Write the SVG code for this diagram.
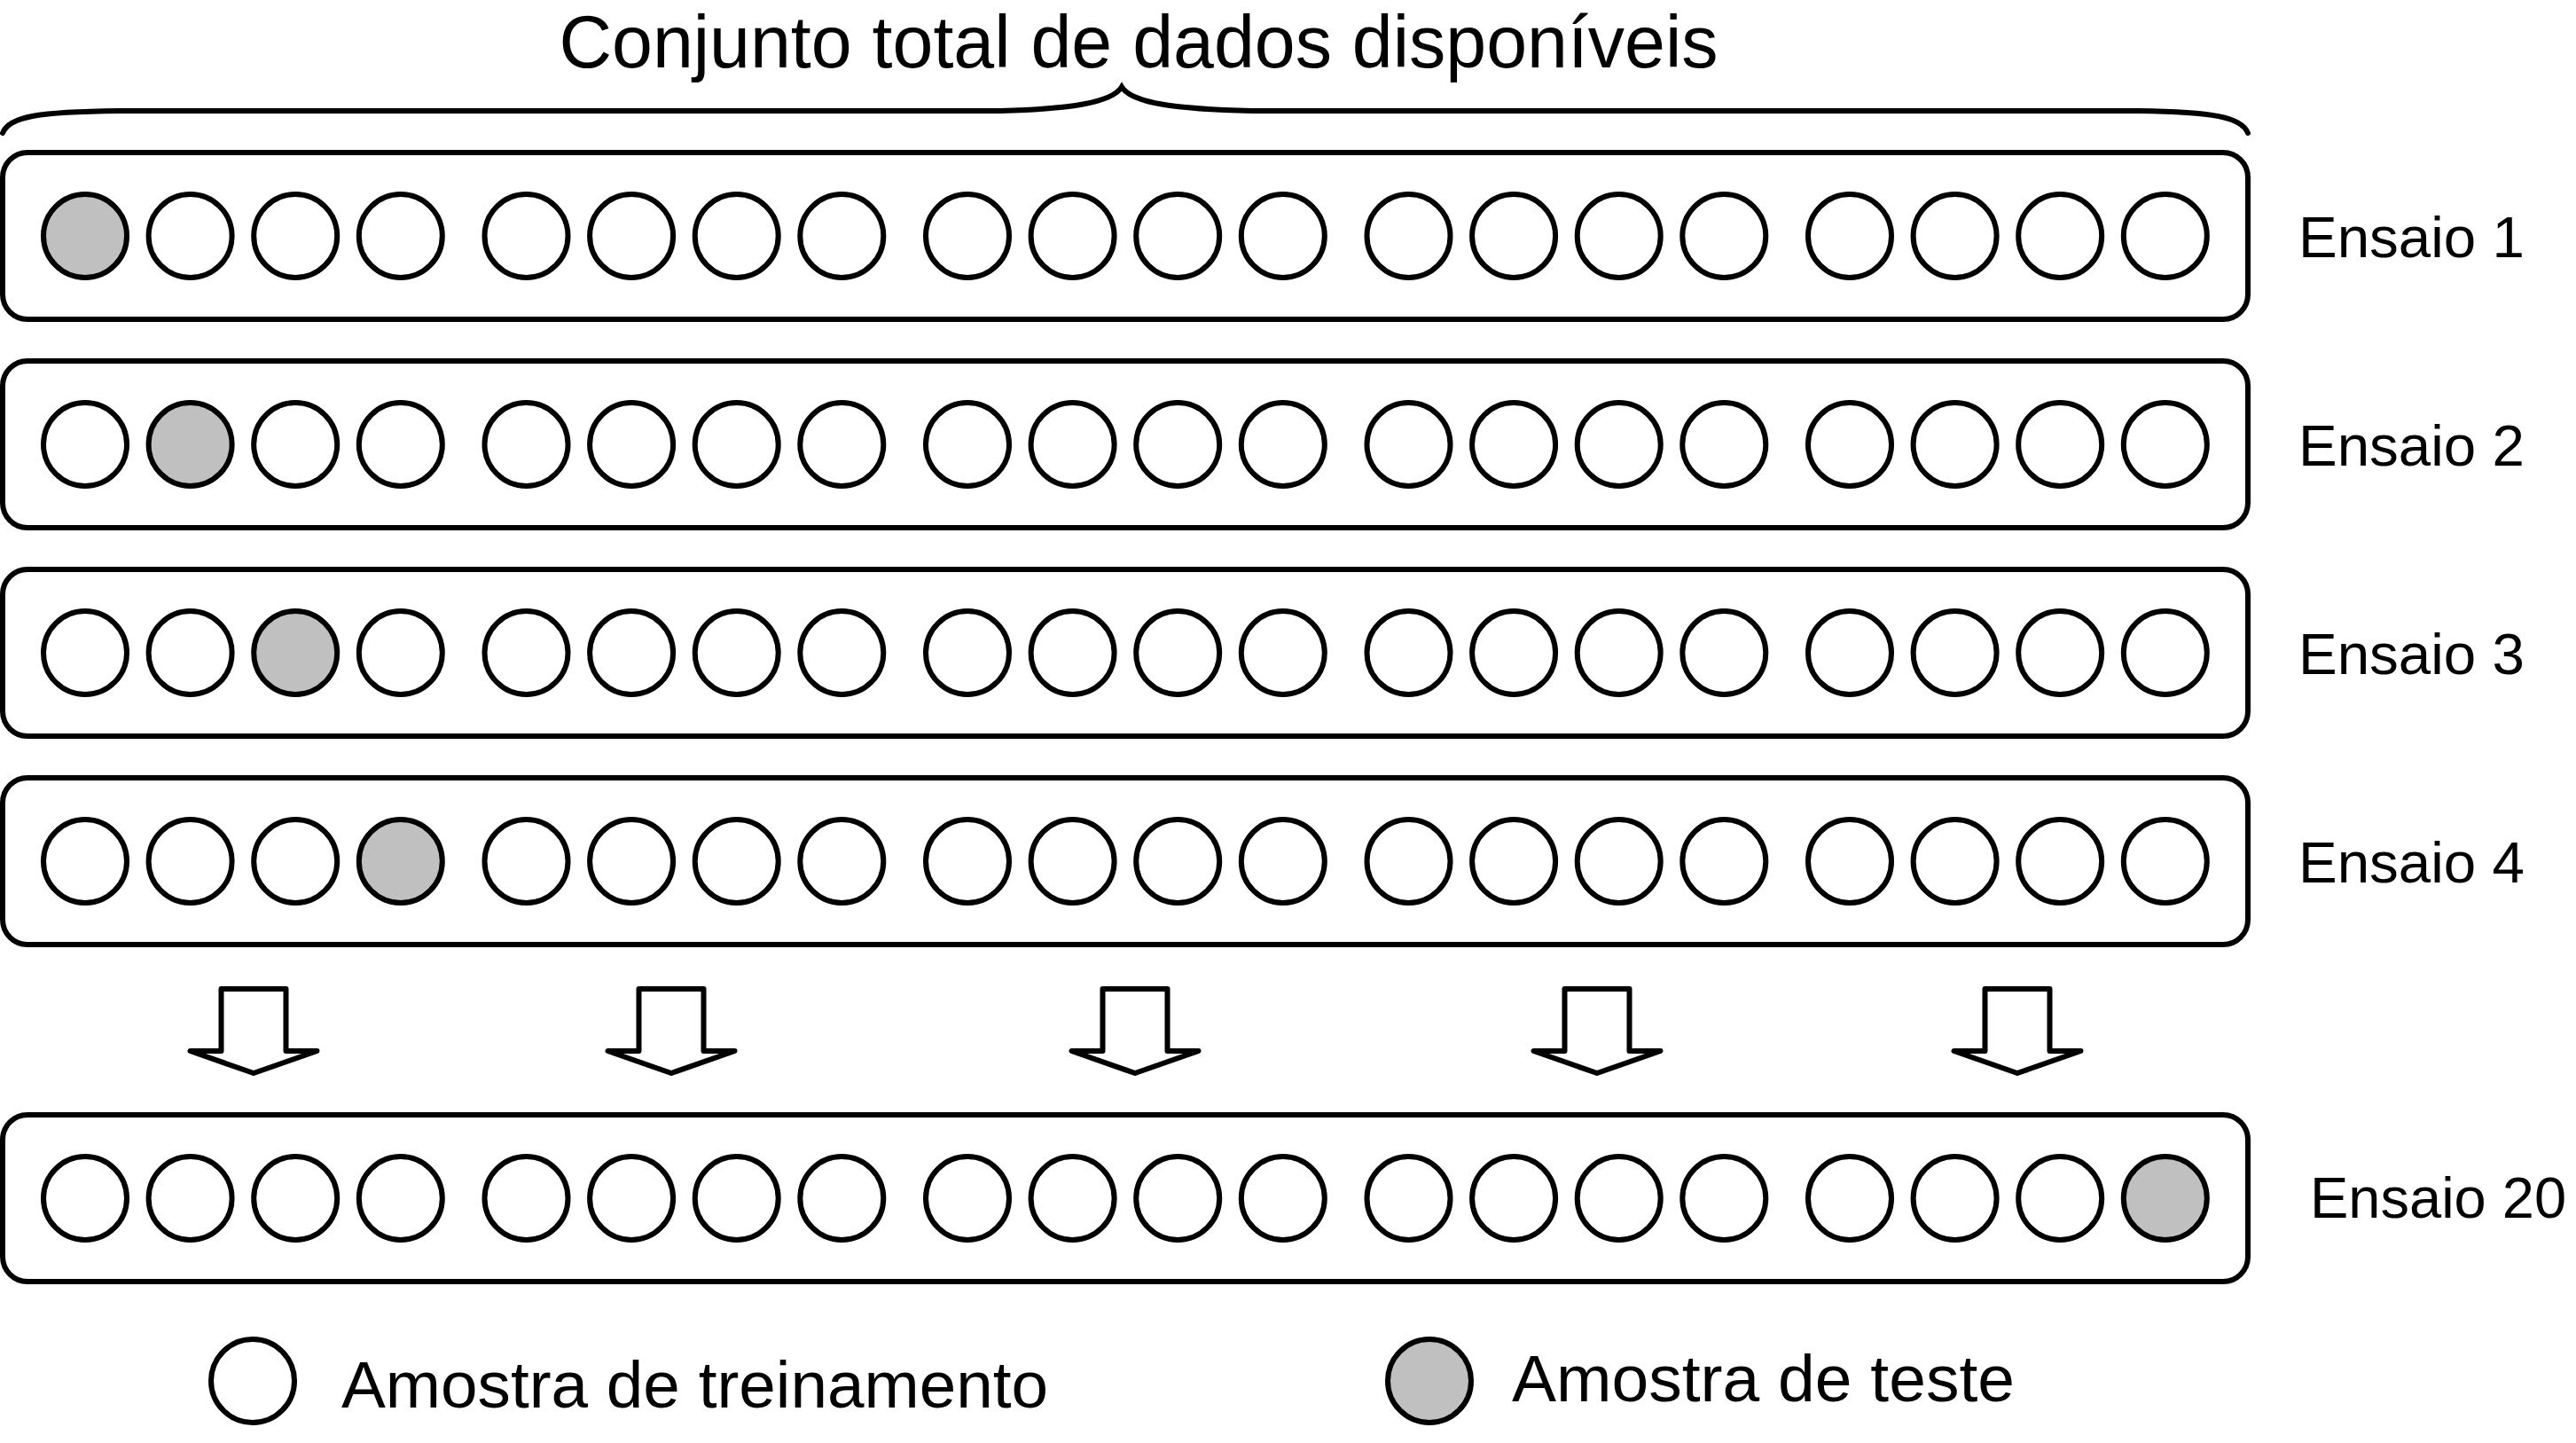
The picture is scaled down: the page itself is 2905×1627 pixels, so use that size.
<svg xmlns="http://www.w3.org/2000/svg" width="2905" height="1627" viewBox="0 0 2905 1627">
<style>
.bg{fill:#ffffff}
.box{fill:#ffffff;stroke:#000;stroke-width:6}
.tr{fill:#ffffff;stroke:#000;stroke-width:6}
.te{fill:#c0c0c0;stroke:#000;stroke-width:6}
.lbl{font-family:"Liberation Sans",Arial,sans-serif;fill:#000}
.arrow{fill:#ffffff;stroke:#000;stroke-width:6;stroke-linejoin:round}
.brace{fill:none;stroke:#000;stroke-width:6;stroke-linecap:round}
</style>
<rect class="bg" x="0" y="0" width="2905" height="1627"/>

<g id="title">
<text class="lbl" x="1284" y="76" font-size="82.5" text-anchor="middle">Conjunto total de dados disponíveis</text>
<path class="brace" d="M3,150 C10,131 45,126 134,125 L1128,125 C1205,123 1254,116 1265,98 C1276,116 1325,123 1412,125 L2412,125 C2495,126 2528,132 2535,150"/>
</g>

<g id="row1">
<rect class="box" x="3" y="172" width="2532" height="188" rx="28"/>
<g transform="translate(0,266)">
<circle class="te" cx="96" cy="0" r="47"/><circle class="tr" cx="214.6" cy="0" r="47"/><circle class="tr" cx="333.2" cy="0" r="47"/><circle class="tr" cx="451.8" cy="0" r="47"/>
<circle class="tr" cx="593.5" cy="0" r="47"/><circle class="tr" cx="712.1" cy="0" r="47"/><circle class="tr" cx="830.7" cy="0" r="47"/><circle class="tr" cx="949.3" cy="0" r="47"/>
<circle class="tr" cx="1091" cy="0" r="47"/><circle class="tr" cx="1209.6" cy="0" r="47"/><circle class="tr" cx="1328.2" cy="0" r="47"/><circle class="tr" cx="1446.8" cy="0" r="47"/>
<circle class="tr" cx="1588.5" cy="0" r="47"/><circle class="tr" cx="1707.1" cy="0" r="47"/><circle class="tr" cx="1825.7" cy="0" r="47"/><circle class="tr" cx="1944.3" cy="0" r="47"/>
<circle class="tr" cx="2086" cy="0" r="47"/><circle class="tr" cx="2204.6" cy="0" r="47"/><circle class="tr" cx="2323.2" cy="0" r="47"/><circle class="tr" cx="2441.8" cy="0" r="47"/>
</g>
<text class="lbl" x="2592" y="290" font-size="65.5">Ensaio 1</text>
</g>

<g id="row2">
<rect class="box" x="3" y="407" width="2532" height="188" rx="28"/>
<g transform="translate(0,501)">
<circle class="tr" cx="96" cy="0" r="47"/><circle class="te" cx="214.6" cy="0" r="47"/><circle class="tr" cx="333.2" cy="0" r="47"/><circle class="tr" cx="451.8" cy="0" r="47"/>
<circle class="tr" cx="593.5" cy="0" r="47"/><circle class="tr" cx="712.1" cy="0" r="47"/><circle class="tr" cx="830.7" cy="0" r="47"/><circle class="tr" cx="949.3" cy="0" r="47"/>
<circle class="tr" cx="1091" cy="0" r="47"/><circle class="tr" cx="1209.6" cy="0" r="47"/><circle class="tr" cx="1328.2" cy="0" r="47"/><circle class="tr" cx="1446.8" cy="0" r="47"/>
<circle class="tr" cx="1588.5" cy="0" r="47"/><circle class="tr" cx="1707.1" cy="0" r="47"/><circle class="tr" cx="1825.7" cy="0" r="47"/><circle class="tr" cx="1944.3" cy="0" r="47"/>
<circle class="tr" cx="2086" cy="0" r="47"/><circle class="tr" cx="2204.6" cy="0" r="47"/><circle class="tr" cx="2323.2" cy="0" r="47"/><circle class="tr" cx="2441.8" cy="0" r="47"/>
</g>
<text class="lbl" x="2592" y="525" font-size="65.5">Ensaio 2</text>
</g>

<g id="row3">
<rect class="box" x="3" y="642" width="2532" height="188" rx="28"/>
<g transform="translate(0,736)">
<circle class="tr" cx="96" cy="0" r="47"/><circle class="tr" cx="214.6" cy="0" r="47"/><circle class="te" cx="333.2" cy="0" r="47"/><circle class="tr" cx="451.8" cy="0" r="47"/>
<circle class="tr" cx="593.5" cy="0" r="47"/><circle class="tr" cx="712.1" cy="0" r="47"/><circle class="tr" cx="830.7" cy="0" r="47"/><circle class="tr" cx="949.3" cy="0" r="47"/>
<circle class="tr" cx="1091" cy="0" r="47"/><circle class="tr" cx="1209.6" cy="0" r="47"/><circle class="tr" cx="1328.2" cy="0" r="47"/><circle class="tr" cx="1446.8" cy="0" r="47"/>
<circle class="tr" cx="1588.5" cy="0" r="47"/><circle class="tr" cx="1707.1" cy="0" r="47"/><circle class="tr" cx="1825.7" cy="0" r="47"/><circle class="tr" cx="1944.3" cy="0" r="47"/>
<circle class="tr" cx="2086" cy="0" r="47"/><circle class="tr" cx="2204.6" cy="0" r="47"/><circle class="tr" cx="2323.2" cy="0" r="47"/><circle class="tr" cx="2441.8" cy="0" r="47"/>
</g>
<text class="lbl" x="2592" y="760" font-size="65.5">Ensaio 3</text>
</g>

<g id="row4">
<rect class="box" x="3" y="877" width="2532" height="188" rx="28"/>
<g transform="translate(0,971)">
<circle class="tr" cx="96" cy="0" r="47"/><circle class="tr" cx="214.6" cy="0" r="47"/><circle class="tr" cx="333.2" cy="0" r="47"/><circle class="te" cx="451.8" cy="0" r="47"/>
<circle class="tr" cx="593.5" cy="0" r="47"/><circle class="tr" cx="712.1" cy="0" r="47"/><circle class="tr" cx="830.7" cy="0" r="47"/><circle class="tr" cx="949.3" cy="0" r="47"/>
<circle class="tr" cx="1091" cy="0" r="47"/><circle class="tr" cx="1209.6" cy="0" r="47"/><circle class="tr" cx="1328.2" cy="0" r="47"/><circle class="tr" cx="1446.8" cy="0" r="47"/>
<circle class="tr" cx="1588.5" cy="0" r="47"/><circle class="tr" cx="1707.1" cy="0" r="47"/><circle class="tr" cx="1825.7" cy="0" r="47"/><circle class="tr" cx="1944.3" cy="0" r="47"/>
<circle class="tr" cx="2086" cy="0" r="47"/><circle class="tr" cx="2204.6" cy="0" r="47"/><circle class="tr" cx="2323.2" cy="0" r="47"/><circle class="tr" cx="2441.8" cy="0" r="47"/>
</g>
<text class="lbl" x="2592" y="995" font-size="65.5">Ensaio 4</text>
</g>

<g id="row20">
<rect class="box" x="3" y="1257" width="2532" height="188" rx="28"/>
<g transform="translate(0,1351)">
<circle class="tr" cx="96" cy="0" r="47"/><circle class="tr" cx="214.6" cy="0" r="47"/><circle class="tr" cx="333.2" cy="0" r="47"/><circle class="tr" cx="451.8" cy="0" r="47"/>
<circle class="tr" cx="593.5" cy="0" r="47"/><circle class="tr" cx="712.1" cy="0" r="47"/><circle class="tr" cx="830.7" cy="0" r="47"/><circle class="tr" cx="949.3" cy="0" r="47"/>
<circle class="tr" cx="1091" cy="0" r="47"/><circle class="tr" cx="1209.6" cy="0" r="47"/><circle class="tr" cx="1328.2" cy="0" r="47"/><circle class="tr" cx="1446.8" cy="0" r="47"/>
<circle class="tr" cx="1588.5" cy="0" r="47"/><circle class="tr" cx="1707.1" cy="0" r="47"/><circle class="tr" cx="1825.7" cy="0" r="47"/><circle class="tr" cx="1944.3" cy="0" r="47"/>
<circle class="tr" cx="2086" cy="0" r="47"/><circle class="tr" cx="2204.6" cy="0" r="47"/><circle class="tr" cx="2323.2" cy="0" r="47"/><circle class="te" cx="2441.8" cy="0" r="47"/>
</g>
<text class="lbl" x="2605" y="1373" font-size="65">Ensaio 20</text>
</g>

<g id="connectors">
<path class="arrow" transform="translate(286,0)" d="M-36.5,1115 L36.5,1115 L36.5,1185 L71.5,1185 L0,1210 L-71.5,1185 L-36.5,1185 Z"/>
<path class="arrow" transform="translate(757,0)" d="M-36.5,1115 L36.5,1115 L36.5,1185 L71.5,1185 L0,1210 L-71.5,1185 L-36.5,1185 Z"/>
<path class="arrow" transform="translate(1280,0)" d="M-36.5,1115 L36.5,1115 L36.5,1185 L71.5,1185 L0,1210 L-71.5,1185 L-36.5,1185 Z"/>
<path class="arrow" transform="translate(1801,0)" d="M-36.5,1115 L36.5,1115 L36.5,1185 L71.5,1185 L0,1210 L-71.5,1185 L-36.5,1185 Z"/>
<path class="arrow" transform="translate(2275,0)" d="M-36.5,1115 L36.5,1115 L36.5,1185 L71.5,1185 L0,1210 L-71.5,1185 L-36.5,1185 Z"/>
</g>

<g id="legend-train">
<circle class="tr" cx="285" cy="1557" r="47"/>
<text class="lbl" x="385" y="1587" font-size="74.7">Amostra de treinamento</text>
</g>
<g id="legend-test">
<circle class="te" cx="1612" cy="1557" r="47"/>
<text class="lbl" x="1705" y="1580" font-size="75">Amostra de teste</text>
</g>
</svg>
